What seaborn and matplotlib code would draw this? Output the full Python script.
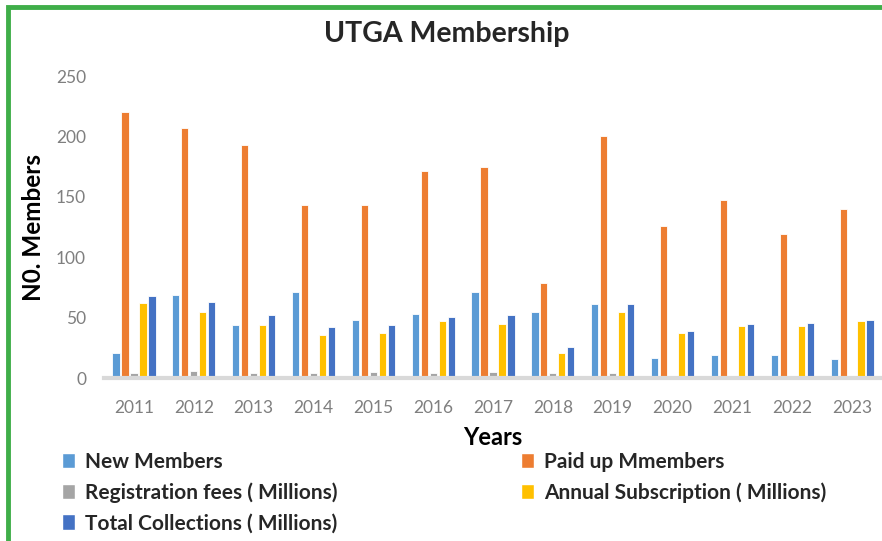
import pandas as pd
import matplotlib.pyplot as plt
import seaborn as sns
from matplotlib.patches import Rectangle, Patch

years = ['2011', '2012', '2013', '2014', '2015', '2016', '2017',
         '2018', '2019', '2020', '2021', '2022', '2023']
new_members = [21, 69, 44, 71, 48, 53, 71, 55, 61, 17, 19, 19, 16]
paid_up = [220, 207, 193, 143, 143, 171, 175, 79, 200, 126, 147, 119, 140]
reg_fees = [4, 6, 4, 4, 5, 4, 5, 4, 4, 0, 0, 0, 0]
annual_sub = [62, 55, 44, 36, 37, 47, 45, 21, 55, 37, 43, 43, 47]
total_coll = [68, 63, 52, 42, 44, 51, 52, 26, 61, 39, 45, 46, 48]

series = ['New Members', 'Paid up Mmembers', 'Registration fees ( Millions)',
          'Annual Subscription ( Millions)', 'Total Collections ( Millions)']
colors = ['#5B9BD5', '#ED7D31', '#A5A5A5', '#FFC000', '#4472C4']

df = pd.DataFrame({'Year': years,
                   series[0]: new_members,
                   series[1]: paid_up,
                   series[2]: reg_fees,
                   series[3]: annual_sub,
                   series[4]: total_coll})
long_df = df.melt(id_vars='Year', var_name='Series', value_name='Value')

sns.set_style('white')
plt.rcParams['font.family'] = ['Lato', 'DejaVu Sans']

fig = plt.figure(figsize=(8.82, 5.41), dpi=100)
ax = fig.add_axes([0.118, 0.301, 0.882, 0.5585])

sns.barplot(data=long_df, x='Year', y='Value', hue='Series', hue_order=series,
            palette=colors, saturation=1, width=0.75, gap=0.2, edgecolor='white',
            linewidth=0.6, legend=False, ax=ax)

ax.set_ylim(0, 250)
ax.set_xlim(-0.5, 12.5)
ax.set_yticks(range(0, 251, 50))
for s in ['top', 'right', 'left']:
    ax.spines[s].set_visible(False)
ax.spines['bottom'].set_color('#D9D9D9')
ax.spines['bottom'].set_linewidth(3)
ax.tick_params(axis='both', length=0, labelsize=12.5, colors='#7F7F7F')
ax.tick_params(axis='x', pad=16)
ax.tick_params(axis='y', pad=13)
ax.set_xlabel('Years', fontsize=17, fontweight='bold', color='black', labelpad=7)
ax.set_ylabel('N0. Members', fontsize=17.5, fontweight='bold', color='black', labelpad=8)

fig.text(0.507, 0.938, 'UTGA Membership', fontsize=20.5, fontweight='bold',
         ha='center', va='center')

handles = [Patch(facecolor=c) for c in colors]
order = [0, 2, 4, 1, 3]
fig.legend([handles[i] for i in order], [series[i] for i in order],
           loc='upper left', bbox_to_anchor=(0.059, 0.184), ncol=2,
           frameon=False, prop={'weight': 'bold', 'size': 15},
           handlelength=0.6, handleheight=0.75, handletextpad=0.5,
           columnspacing=8.8, labelspacing=0.5, borderpad=0)

fig.add_artist(Rectangle((0.009, -0.1), 1.2, 1.0 - 0.013 + 0.1,
                         transform=fig.transFigure, fill=False,
                         edgecolor='#3FAE49', linewidth=3.5, clip_on=False))

fig.savefig('out.png', dpi=100)
